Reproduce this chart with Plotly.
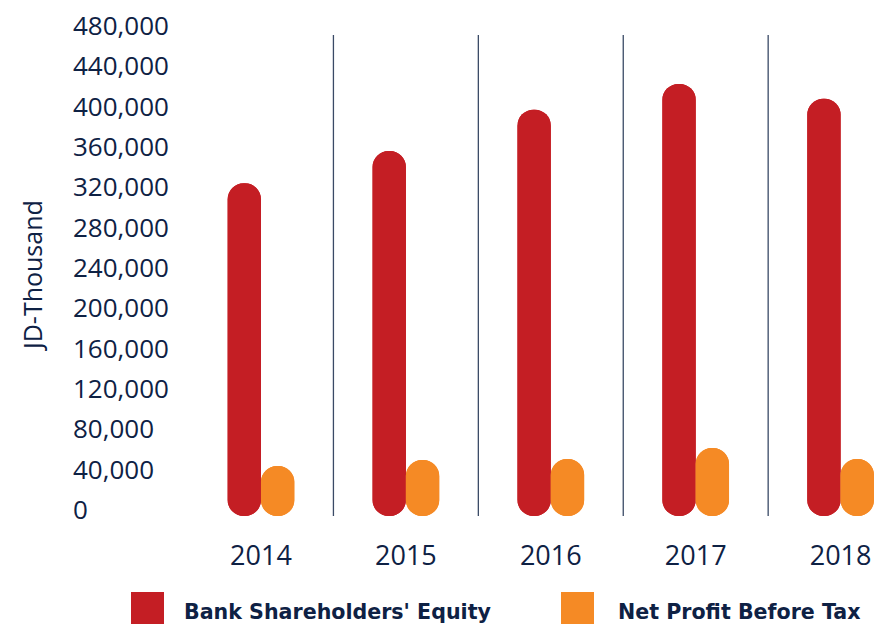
import plotly.graph_objects as go

years = ["2014", "2015", "2016", "2017", "2018"]
equity = [330000, 362000, 403000, 428500, 413700]
profit = [49600, 55500, 56500, 67500, 56500]
y_ticks = [0, 40000, 80000, 120000, 160000, 200000, 240000, 280000,
           320000, 360000, 400000, 440000, 480000]
y_tick_labels = [f"{v:,}" for v in y_ticks]
series_names = ["Bank Shareholders' Equity", "Net Profit Before Tax"]

RED = "#C41E24"
ORANGE = "#F58A25"
NAVY = "#0E2144"
FONT = "Open Sans"
RADIUS = 17

W, H = 878, 630
TOP, BOTTOM = 32, 516          # plot area in pixels
PH = BOTTOM - TOP


def py(pix):
    """pixel row -> paper y (paper is relative to the plot area)"""
    return (BOTTOM - pix) / PH


xi = list(range(len(years)))

fig = go.Figure()
# Each rounded bar = two overlaid bars: one rounded at the top, one rounded at the bottom
for vals, color, grp in [(equity, RED, "a"), (profit, ORANGE, "b")]:
    fig.add_trace(go.Bar(x=xi, y=vals, base=0, marker=dict(color=color, cornerradius=RADIUS,
                         line=dict(width=0)), offsetgroup=grp, showlegend=False,
                         hoverinfo="skip", cliponaxis=False))
    fig.add_trace(go.Bar(x=xi, y=[-v for v in vals], base=vals,
                         marker=dict(color=color, cornerradius=RADIUS, line=dict(width=0)),
                         offsetgroup=grp, showlegend=False, hoverinfo="skip",
                         cliponaxis=False))

shapes = []
for i in range(len(years) - 1):
    shapes.append(dict(type="line", xref="x", yref="y", x0=i + 0.5, x1=i + 0.5,
                       y0=0, y1=477000, line=dict(color="#3A4A66", width=1.3)))

# manual legend
legend_items = [(series_names[0], RED, 131, 184), (series_names[1], ORANGE, 561, 618)]
annotations = []
for name, color, sx, tx in legend_items:
    shapes.append(dict(type="rect", xref="paper", yref="paper",
                       x0=sx / W, x1=(sx + 33) / W, y0=py(624), y1=py(592),
                       fillcolor=color, line=dict(width=0)))
    annotations.append(dict(text=f"<b>{name}</b>", xref="paper", yref="paper",
                            x=(tx - 2) / W, y=py(612), xanchor="left", yanchor="middle",
                            showarrow=False,
                            font=dict(family="DejaVu Sans", size=20.6, color=NAVY)))

annotations.append(dict(text="JD-Thousand", xref="paper", yref="paper",
                        x=32 / W, y=py(276), xanchor="center", yanchor="middle",
                        textangle=-90, showarrow=False,
                        font=dict(family=FONT, size=25, color=NAVY)))

fig.update_layout(
    width=W, height=H,
    margin=dict(l=0, r=0, t=TOP, b=H - BOTTOM, autoexpand=False),
    plot_bgcolor="white", paper_bgcolor="white",
    barmode="group", bargap=0.54, bargroupgap=0,
    showlegend=False,
    shapes=shapes, annotations=annotations,
    xaxis=dict(range=[-1.801, 4.258], tickvals=xi, ticktext=years,
               showgrid=False, zeroline=False, showline=False, ticks="",
               ticklabelstandoff=21, automargin=False,
               tickfont=dict(family=FONT, size=27, color=NAVY), domain=[0, 1]),
    yaxis=dict(range=[0, 480000], tickvals=y_ticks, ticktext=y_tick_labels,
               showgrid=False, zeroline=False, showline=False, ticks="",
               side="right", anchor="free", position=72 / W, automargin=False,
               ticklabelshift=-6,
               tickfont=dict(family=FONT, size=26, color=NAVY)),
)

fig.write_html("out.html", config={"displayModeBar": False},
               post_script="document.body.style.margin='0px';document.body.style.overflow='hidden';")
